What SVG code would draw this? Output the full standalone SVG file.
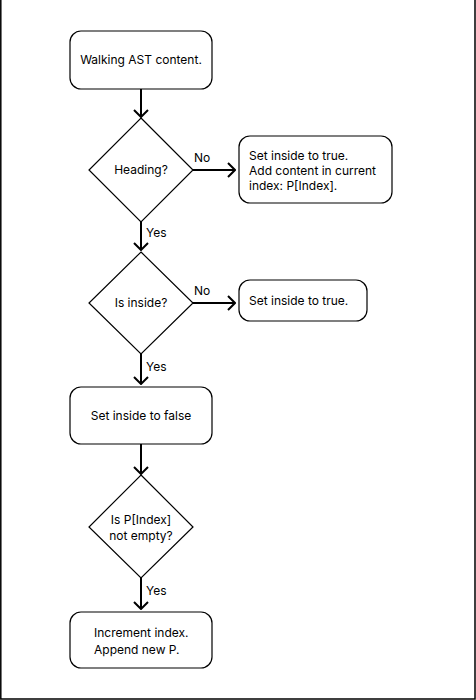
<svg xmlns="http://www.w3.org/2000/svg" width="476" height="700" viewBox="0 0 476 700">
<defs>
<style>
.box{fill:#fff;stroke:#000;stroke-width:1.2}
.t{font-family:Inter,"Liberation Sans",sans-serif;font-size:12px;fill:#000}
.c{text-anchor:middle}
.e{stroke:#000;stroke-width:2;fill:none}
</style>
<marker id="ah" viewBox="0 0 10 16" refX="9" refY="8" markerWidth="10" markerHeight="16" markerUnits="userSpaceOnUse" orient="auto">
<path d="M2,1 L9,8 L2,15" fill="none" stroke="#000" stroke-width="2"/>
</marker>
</defs>
<rect width="476" height="700" fill="#fff"/>
<path d="M0.8,0 V699 H475 V0" fill="none" stroke="#000" stroke-width="1.5"/>
<g id="connectors">
<line class="e" x1="141" y1="89" x2="141" y2="117" marker-end="url(#ah)"/>
<line class="e" x1="193" y1="170" x2="235" y2="170" marker-end="url(#ah)"/>
<line class="e" x1="141" y1="222" x2="141" y2="250" marker-end="url(#ah)"/>
<line class="e" x1="193" y1="303" x2="235" y2="303" marker-end="url(#ah)"/>
<line class="e" x1="141" y1="354" x2="141" y2="384" marker-end="url(#ah)"/>
<line class="e" x1="141" y1="444" x2="141" y2="474" marker-end="url(#ah)"/>
<line class="e" x1="141" y1="578" x2="141" y2="609" marker-end="url(#ah)"/>
<text class="t" x="194" y="162">No</text>
<text class="t" x="146" y="237">Yes</text>
<text class="t" x="194" y="295">No</text>
<text class="t" x="146" y="371">Yes</text>
<text class="t" x="146" y="595">Yes</text>
</g>
<g id="n1">
<rect class="box" x="70" y="31" width="142" height="58" rx="11"/>
<text class="t c" x="141" y="64">Walking AST content.</text>
</g>
<g id="n2">
<polygon class="box" points="141,118 193,170 141,222 89,170"/>
<text class="t c" x="141" y="174">Heading?</text>
</g>
<g id="n3">
<rect class="box" x="239" y="136" width="153" height="67" rx="11"/>
<text class="t" x="249" y="160">Set inside to true.</text>
<text class="t" x="249" y="175">Add content in current</text>
<text class="t" x="249" y="190">index: P[Index].</text>
</g>
<g id="n4">
<polygon class="box" points="141,252 193,303 141,354 89,303"/>
<text class="t c" x="141" y="307">Is inside?</text>
</g>
<g id="n5">
<rect class="box" x="239" y="280" width="128" height="41" rx="11"/>
<text class="t" x="249" y="305">Set inside to true.</text>
</g>
<g id="n6">
<rect class="box" x="70" y="387" width="142" height="57" rx="11"/>
<text class="t c" x="141" y="420">Set inside to false</text>
</g>
<g id="n7">
<polygon class="box" points="141,475 193,527 141,578 89,527"/>
<text class="t c" x="141" y="524">Is P[Index]</text>
<text class="t c" x="141" y="540">not empty?</text>
</g>
<g id="n8">
<rect class="box" x="70" y="612" width="142" height="56" rx="11"/>
<text class="t" x="94" y="637">Increment index.</text>
<text class="t" x="94" y="654">Append new P.</text>
</g>
</svg>
